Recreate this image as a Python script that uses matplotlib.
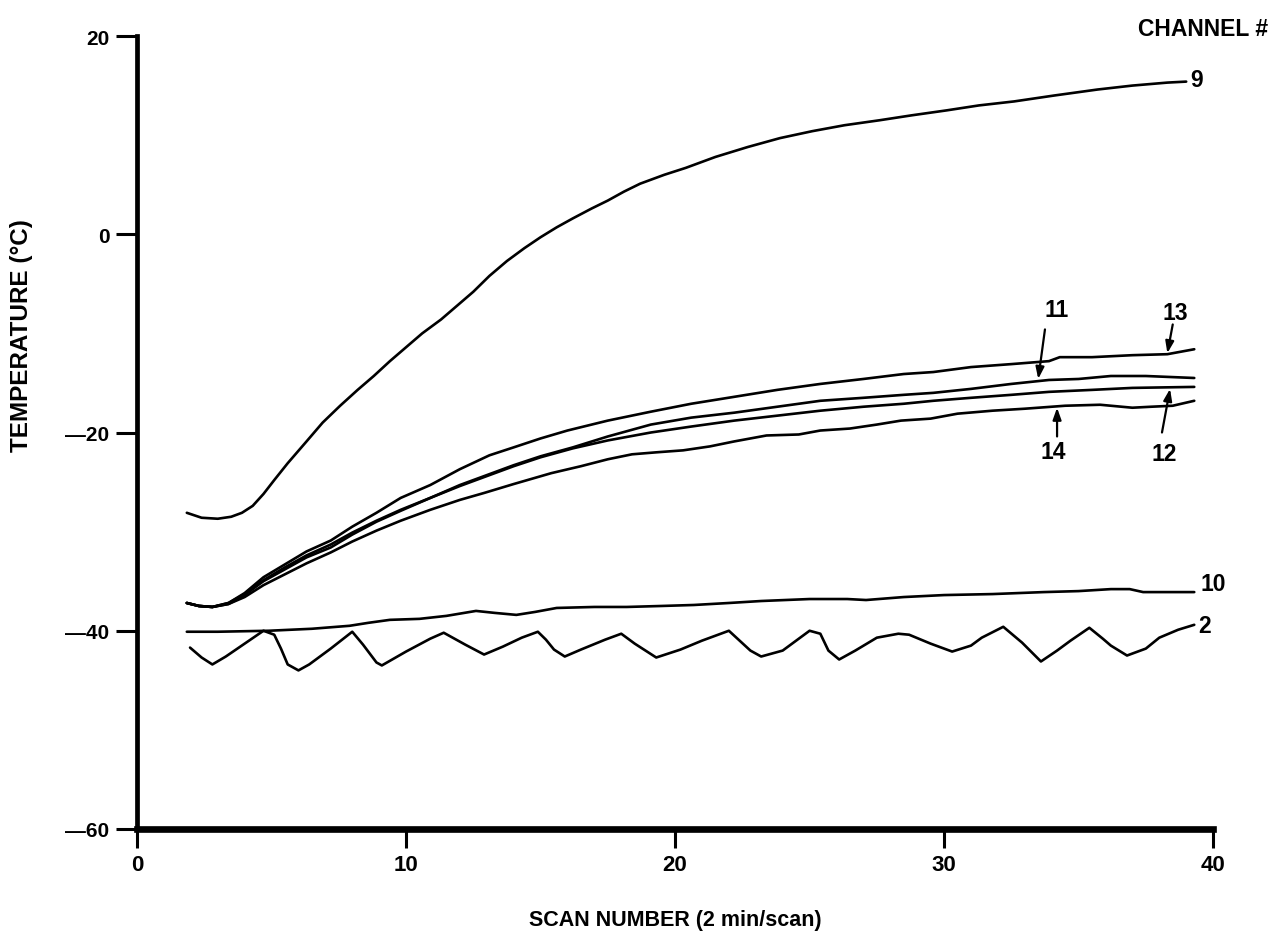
import matplotlib
matplotlib.use("Agg")
import matplotlib.pyplot as plt
from matplotlib.ticker import FixedLocator, FixedFormatter

NARROW = ['Liberation Sans Narrow', 'Liberation Sans', 'DejaVu Sans']
WIDE = ['Liberation Sans', 'DejaVu Sans']

# ---------------- data ----------------
ch9_x = [1.85, 2.4, 3.0, 3.5, 3.9, 4.3, 4.7, 5.1, 5.6, 6.3, 6.9, 7.55, 8.2, 8.8, 9.4, 10.0,
         10.6, 11.3, 11.9, 12.5, 13.1, 13.75, 14.4, 15.0, 15.6, 16.2, 16.9, 17.5, 18.1,
         18.7, 19.6, 20.4, 21.5, 22.7, 23.9, 25.1, 26.3, 27.6, 28.8, 30.1, 31.3, 32.6,
         34.1, 35.7, 37.0, 38.3, 39.0]
ch9_y = [-28.1, -28.6, -28.7, -28.5, -28.1, -27.4, -26.2, -24.8, -23.1, -20.9, -19.0,
         -17.3, -15.7, -14.3, -12.8, -11.4, -10.0, -8.6, -7.2, -5.8, -4.2, -2.7, -1.4,
         -0.3, 0.7, 1.6, 2.6, 3.4, 4.3, 5.1, 6.0, 6.7, 7.8, 8.8, 9.7, 10.4, 11.0, 11.5,
         12.0, 12.5, 13.0, 13.4, 14.0, 14.6, 15.0, 15.3, 15.4]

ch13_x = [1.85, 2.3, 2.8, 3.4, 4.0, 4.7, 5.5, 6.3, 7.2, 8.0, 8.9, 9.8, 10.9, 12.0, 13.1,
          14.0, 15.0, 16.0, 17.5, 19.1, 20.6, 22.2, 23.8, 25.4, 27.0, 28.5, 29.6, 31.0,
          32.5, 33.9, 34.3, 35.5, 37.0, 38.3, 39.3]
ch13_y = [-37.2, -37.5, -37.6, -37.2, -36.2, -34.6, -33.3, -32.0, -30.9, -29.5, -28.1,
          -26.6, -25.3, -23.7, -22.3, -21.5, -20.6, -19.8, -18.8, -17.9, -17.1, -16.4,
          -15.7, -15.1, -14.6, -14.1, -13.9, -13.4, -13.1, -12.8, -12.4, -12.4, -12.2,
          -12.1, -11.6]

ch11_x = [1.85, 2.3, 2.8, 3.4, 4.0, 4.7, 5.5, 6.3, 7.2, 8.0, 8.9, 9.8, 10.9, 12.0, 13.1,
          14.0, 15.0, 16.2, 17.5, 19.1, 20.6, 22.2, 23.8, 25.4, 27.0, 28.5, 29.6, 31.0,
          32.5, 33.9, 35.0, 36.2, 37.5, 39.3]
ch11_y = [-37.2, -37.5, -37.6, -37.3, -36.4, -35.0, -33.8, -32.6, -31.6, -30.3, -29.0,
          -27.9, -26.6, -25.3, -24.2, -23.3, -22.4, -21.5, -20.4, -19.2, -18.5, -18.0,
          -17.4, -16.8, -16.5, -16.2, -16.0, -15.6, -15.1, -14.7, -14.6, -14.3, -14.3,
          -14.5]

ch12_x = [1.85, 2.3, 2.8, 3.4, 4.0, 4.7, 5.5, 6.3, 7.2, 8.0, 8.9, 9.8, 10.9, 12.0, 13.1,
          14.0, 15.0, 16.2, 17.5, 19.1, 20.6, 22.2, 23.8, 25.4, 27.0, 28.5, 29.6, 31.0,
          32.5, 33.9, 35.5, 37.0, 39.3]
ch12_y = [-37.2, -37.5, -37.6, -37.2, -36.3, -34.9, -33.6, -32.4, -31.3, -30.1, -28.9,
          -27.8, -26.6, -25.4, -24.3, -23.4, -22.5, -21.6, -20.8, -20.0, -19.4, -18.8,
          -18.3, -17.8, -17.4, -17.1, -16.8, -16.5, -16.2, -15.9, -15.7, -15.5, -15.4]

ch14_x = [1.85, 2.3, 2.8, 3.4, 4.0, 4.7, 5.5, 6.3, 7.2, 8.0, 8.9, 9.8, 10.9, 12.0, 12.9,
          14.0, 15.4, 16.5, 17.5, 18.4, 19.3, 20.3, 21.3, 22.2, 23.4, 24.6, 25.4, 26.5,
          27.5, 28.4, 29.5, 30.5, 31.8, 33.0, 34.5, 35.8, 37.0, 37.7, 38.5, 39.3]
ch14_y = [-37.2, -37.5, -37.6, -37.3, -36.6, -35.4, -34.3, -33.2, -32.1, -31.0, -29.9,
          -28.9, -27.8, -26.8, -26.1, -25.2, -24.1, -23.4, -22.7, -22.2, -22.0, -21.8,
          -21.4, -20.9, -20.3, -20.2, -19.8, -19.6, -19.2, -18.8, -18.6, -18.1, -17.8,
          -17.6, -17.3, -17.2, -17.5, -17.4, -17.3, -16.8]

ch10_x = [1.85, 3.0, 4.9, 6.5, 7.9, 8.6, 9.4, 10.5, 11.5, 12.6, 13.3, 14.1, 14.8, 15.6,
          17.0, 18.2, 19.5, 20.7, 22.0, 23.2, 25.0, 26.4, 27.1, 28.5, 30.0, 31.8, 33.7,
          35.0, 36.2, 36.9, 37.4, 38.3, 39.3]
ch10_y = [-40.1, -40.1, -40.0, -39.8, -39.5, -39.2, -38.9, -38.8, -38.5, -38.0, -38.2,
          -38.4, -38.1, -37.7, -37.6, -37.6, -37.5, -37.4, -37.2, -37.0, -36.8, -36.8,
          -36.9, -36.6, -36.4, -36.3, -36.1, -36.0, -35.8, -35.8, -36.1, -36.1, -36.1]

ch2_x = [1.97, 2.4, 2.8, 3.3, 4.0, 4.7, 5.1, 5.35, 5.6, 6.0, 6.4, 7.2, 8.0, 8.4, 8.9, 9.1,
         10.0, 10.9, 11.4, 12.2, 12.9, 13.6, 14.3, 14.9, 15.2, 15.5, 15.9, 16.5, 17.4,
         18.0, 18.5, 19.3, 20.2, 21.0, 22.0, 22.4, 22.8, 23.2, 24.0, 25.0, 25.4, 25.7,
         26.1, 26.7, 27.5, 28.3, 28.7, 29.5, 30.3, 31.0, 31.4, 32.2, 32.9, 33.6, 34.2,
         34.7, 35.4, 35.9, 36.2, 36.8, 37.5, 38.0, 38.7, 39.3]
ch2_y = [-41.7, -42.7, -43.4, -42.6, -41.3, -40.0, -40.4, -41.8, -43.4, -44.0, -43.4,
         -41.8, -40.1, -41.4, -43.2, -43.5, -42.1, -40.8, -40.2, -41.4, -42.4, -41.6,
         -40.7, -40.1, -40.9, -41.9, -42.6, -41.9, -40.9, -40.3, -41.3, -42.7, -41.9,
         -41.0, -40.0, -41.0, -42.0, -42.6, -42.0, -40.0, -40.3, -42.0, -42.9, -42.0,
         -40.7, -40.3, -40.4, -41.3, -42.1, -41.5, -40.7, -39.6, -41.2, -43.1, -42.0,
         -41.0, -39.7, -40.8, -41.5, -42.5, -41.8, -40.7, -39.9, -39.4]

x_ticks = [0, 10, 20, 30, 40]
x_tick_labels = ["0", "10", "20", "30", "40"]
y_ticks = [-60, -40, -20, 0, 20]
y_tick_labels = ["\u201460", "\u201440", "\u201420", "0", "20"]

# ---------------- figure ----------------
fig = plt.figure(figsize=(12.76, 9.37), dpi=100)
ax = fig.add_axes([0.1074, 0.1142, 0.8433, 0.8463])

series = [(ch9_x, ch9_y), (ch13_x, ch13_y), (ch11_x, ch11_y), (ch12_x, ch12_y),
          (ch14_x, ch14_y), (ch10_x, ch10_y), (ch2_x, ch2_y)]
for xs, ys in series:
    ax.plot(xs, ys, color='black', lw=1.9, solid_capstyle='round', solid_joinstyle='round')

ax.set_xlim(0, 40)
ax.set_ylim(-60, 20)
ax.spines['top'].set_visible(False)
ax.spines['right'].set_visible(False)
ax.spines['left'].set_linewidth(3.4)
ax.spines['bottom'].set_linewidth(4.8)

ax.xaxis.set_major_locator(FixedLocator(x_ticks))
ax.xaxis.set_major_formatter(FixedFormatter(x_tick_labels))
ax.yaxis.set_major_locator(FixedLocator(y_ticks))
ax.yaxis.set_major_formatter(FixedFormatter(y_tick_labels))
ax.tick_params(axis='x', direction='out', length=14, width=2.2, pad=4, labelsize=16)
ax.tick_params(axis='y', direction='out', length=15, width=2.2, pad=5, labelsize=15)
for lab in ax.get_xticklabels():
    lab.set_family(NARROW)
    lab.set_fontweight('bold')
for lab in ax.get_yticklabels():
    lab.set_family(WIDE)
    lab.set_fontweight('bold')

fig.text(0.017, 0.642, "TEMPERATURE (\u00b0C)", rotation=90, ha='center', va='center',
         family=WIDE, fontweight='bold', fontsize=17.5)
fig.text(0.529, 0.018, "SCAN NUMBER (2 min/scan)", ha='center', va='center',
         family=NARROW, fontweight='bold', fontsize=15.5)
fig.text(0.994, 0.968, "CHANNEL #", ha='right', va='center',
         family=NARROW, fontweight='bold', fontsize=16.5)

lab_kw = dict(family=NARROW, fontweight='bold', fontsize=16.5, ha='center', va='center')
ax.text(39.4, 15.6, "9", **lab_kw)
ax.text(40.0, -35.2, "10", clip_on=False, **lab_kw)
ax.text(39.7, -39.5, "2", **lab_kw)

arrow = dict(arrowstyle='-|>,head_length=0.7,head_width=0.25', color='black', lw=1.6,
             shrinkA=0, shrinkB=0)
ax.text(34.2, -7.6, "11", **lab_kw)
ax.annotate("", xy=(33.5, -14.6), xytext=(33.75, -9.6), arrowprops=arrow)
ax.text(38.6, -7.9, "13", **lab_kw)
ax.annotate("", xy=(38.3, -12.0), xytext=(38.5, -9.1), arrowprops=arrow)
ax.text(34.05, -21.9, "14", **lab_kw)
ax.annotate("", xy=(34.2, -17.5), xytext=(34.2, -20.4), arrowprops=arrow)
ax.text(38.2, -22.1, "12", **lab_kw)
ax.annotate("", xy=(38.4, -15.6), xytext=(38.1, -20.0), arrowprops=arrow)

fig.savefig("out.png", dpi=100)
